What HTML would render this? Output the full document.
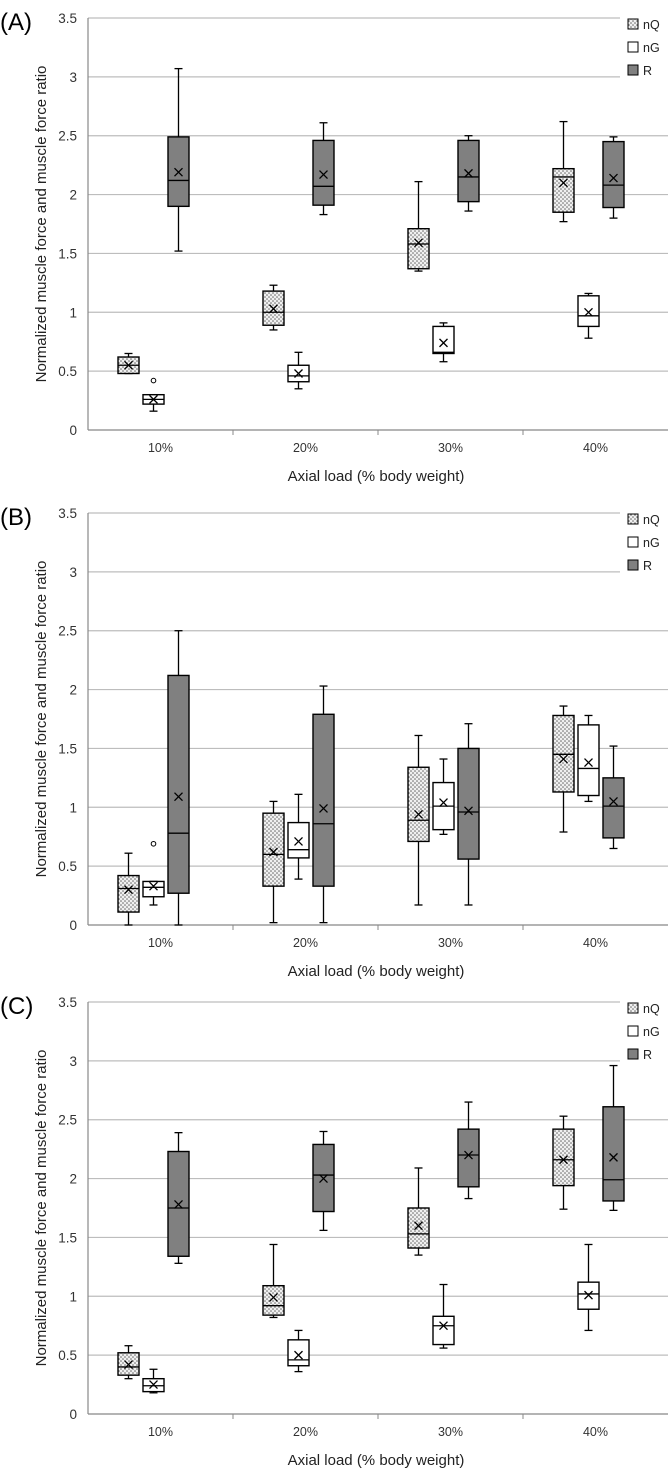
<!DOCTYPE html>
<html><head><meta charset="utf-8"><style>
body{margin:0;background:#fff;}
svg{display:block;font-family:"Liberation Sans",sans-serif;}
</style></head><body>
<svg id="chart" width="669" height="1472">
<defs>
<pattern id="dots" width="4" height="4" patternUnits="userSpaceOnUse">
<rect width="4" height="4" fill="#f0f0f0"/>
<circle cx="1" cy="1" r="0.8" fill="#666"/>
<circle cx="3" cy="3" r="0.8" fill="#666"/>
</pattern>
</defs>
</svg>
<script>
const categories = ["10%","20%","30%","40%"];
const series = ["nQ","nG","R"];
const yTicks = [0,0.5,1,1.5,2,2.5,3,3.5];
const panelLabels = ["(A)","(B)","(C)"];
// each stat: [min, q1, median, q3, max, mean] per category
const A_nQ = [[0.48,0.48,0.55,0.62,0.65,0.55],[0.85,0.89,1.0,1.18,1.23,1.03],[1.35,1.37,1.58,1.71,2.11,1.59],[1.77,1.85,2.15,2.22,2.62,2.1]];
const A_nG = [[0.16,0.22,0.26,0.3,0.3,0.26],[0.35,0.41,0.46,0.55,0.66,0.48],[0.58,0.65,0.66,0.88,0.91,0.74],[0.78,0.88,0.97,1.14,1.16,1.0]];
const A_R  = [[1.52,1.9,2.12,2.49,3.07,2.19],[1.83,1.91,2.07,2.46,2.61,2.17],[1.86,1.94,2.15,2.46,2.5,2.18],[1.8,1.89,2.08,2.45,2.49,2.14]];
const B_nQ = [[0,0.11,0.31,0.42,0.61,0.3],[0.02,0.33,0.6,0.95,1.05,0.62],[0.17,0.71,0.89,1.34,1.61,0.94],[0.79,1.13,1.45,1.78,1.86,1.41]];
const B_nG = [[0.17,0.24,0.32,0.37,0.37,0.33],[0.39,0.57,0.64,0.87,1.11,0.71],[0.77,0.81,1.01,1.21,1.41,1.04],[1.05,1.1,1.33,1.7,1.78,1.38]];
const B_R  = [[0,0.27,0.78,2.12,2.5,1.09],[0.02,0.33,0.86,1.79,2.03,0.99],[0.17,0.56,0.96,1.5,1.71,0.97],[0.65,0.74,1.01,1.25,1.52,1.05]];
const C_nQ = [[0.3,0.33,0.4,0.52,0.58,0.42],[0.82,0.84,0.92,1.09,1.44,0.99],[1.35,1.41,1.53,1.75,2.09,1.6],[1.74,1.94,2.16,2.42,2.53,2.16]];
const C_nG = [[0.18,0.19,0.24,0.3,0.38,0.25],[0.36,0.41,0.46,0.63,0.71,0.5],[0.56,0.59,0.75,0.83,1.1,0.75],[0.71,0.89,1.02,1.12,1.44,1.01]];
const C_R  = [[1.28,1.34,1.75,2.23,2.39,1.78],[1.56,1.72,2.03,2.29,2.4,2.0],[1.83,1.93,2.2,2.42,2.65,2.2],[1.73,1.81,1.99,2.61,2.96,2.18]];
const outliersA = [[1,0,0.42]]; // [series, category, value]
const outliersB = [[1,0,0.69]];
const outliersC = [];

const panels = [[A_nQ,A_nG,A_R,outliersA],[B_nQ,B_nG,B_R,outliersB],[C_nQ,C_nG,C_R,outliersC]];
const svg = document.getElementById('chart');
const NS = "http://www.w3.org/2000/svg";
function mk(tag, attrs, parent){const e=document.createElementNS(NS,tag);for(const k in attrs)e.setAttribute(k,attrs[k]);(parent||svg).appendChild(e);return e;}
const fills = ["url(#dots)","#fff","#808080"];
const L=88,R=668,catW=(R-L)/4;
panels.forEach((p,pi)=>{
  const off = pi*495 - (pi===2?6:0);
  const top=18+off, bot=430+off;
  const y = v => bot - v*(bot-top)/3.5;
  const xc = i => L + catW*(i+0.5) - 7;
  const g = mk('g',{});
  
  
  const lab = mk('text',{x:0,y:top+12,'font-size':24,fill:'#000'},g);
  lab.textContent = panelLabels[pi];
  
  
  yTicks.forEach(t=>{
    if(t>0){const gl=mk('line',{x1:L,x2:R,y1:y(t),y2:y(t),stroke:'#bdbdbd','stroke-width':1.2},g);
    
    }
    const tl=mk('text',{x:L-11,y:y(t)+5,'text-anchor':'end','font-size':13.5,fill:'#333'},g);
    tl.textContent=t;
    
    
  });
  mk('line',{x1:L,x2:L,y1:top,y2:bot,stroke:'#888','stroke-width':1.2},g);
  mk('line',{x1:L,x2:R,y1:bot,y2:bot,stroke:'#888','stroke-width':1.2},g);
  for(let i=1;i<4;i++) mk('line',{x1:L+catW*i,x2:L+catW*i,y1:bot,y2:bot+5,stroke:'#888'},g);
  categories.forEach((c,i)=>{
    const t=mk('text',{x:L+catW*(i+0.5),y:bot+22,'text-anchor':'middle','font-size':12.5,fill:'#333'},g);
    t.textContent=c;
    
    
  });
  const xt=mk('text',{x:L+(R-L)/2-2,y:bot+51,'text-anchor':'middle','font-size':15,fill:'#222'},g);
  xt.textContent='Axial load (% body weight)';
  
  
  const yt=mk('text',{x:0,y:0,'text-anchor':'middle','font-size':15,fill:'#222',transform:`translate(46,${(top+bot)/2}) rotate(-90)`},g);
  yt.textContent='Normalized muscle force and muscle force ratio';
  
  
  // legend
  mk('rect',{x:620,y:top-8,width:49,height:72,fill:'#fff'},g);
  series.forEach((s,si)=>{
    const ly=top+6+si*23;
    const lr=mk('rect',{x:628,y:ly-5,width:10,height:10,fill:fills[si],stroke:'#000','stroke-width':1},g);
    
    
    const lt=mk('text',{x:643,y:ly+5,'font-size':12.5,fill:'#222'},g);
    lt.textContent=s;
    
    
  });
  // boxes
  for(let si=0;si<3;si++){
    p[si].forEach((d,ci)=>{
      const cx=xc(ci)+(si-1)*25, w=21;
      const bg=mk('g',{},g);
      
      
      mk('line',{x1:cx,x2:cx,y1:y(d[0]),y2:y(d[4]),stroke:'#000','stroke-width':1.3},bg);
      mk('line',{x1:cx-4,x2:cx+4,y1:y(d[0]),y2:y(d[0]),stroke:'#000','stroke-width':1.3},bg);
      mk('line',{x1:cx-4,x2:cx+4,y1:y(d[4]),y2:y(d[4]),stroke:'#000','stroke-width':1.3},bg);
      mk('rect',{x:cx-w/2,y:y(d[3]),width:w,height:Math.max(1,y(d[1])-y(d[3])),fill:fills[si],stroke:'#000','stroke-width':1.4},bg);
      mk('line',{x1:cx-w/2,x2:cx+w/2,y1:y(d[2]),y2:y(d[2]),stroke:'#000','stroke-width':1.3},bg);
      const my=y(d[5]);
      mk('path',{d:`M${cx-4} ${my-4}L${cx+4} ${my+4}M${cx-4} ${my+4}L${cx+4} ${my-4}`,stroke:'#000','stroke-width':1.3},bg);
    });
  }
  p[3].forEach(o=>{
    const c=mk('circle',{cx:xc(o[1])+(o[0]-1)*25,cy:y(o[2]),r:2.3,fill:'#fff',stroke:'#000','stroke-width':1},g);
    
    
  });
});
</script>
</body></html>
